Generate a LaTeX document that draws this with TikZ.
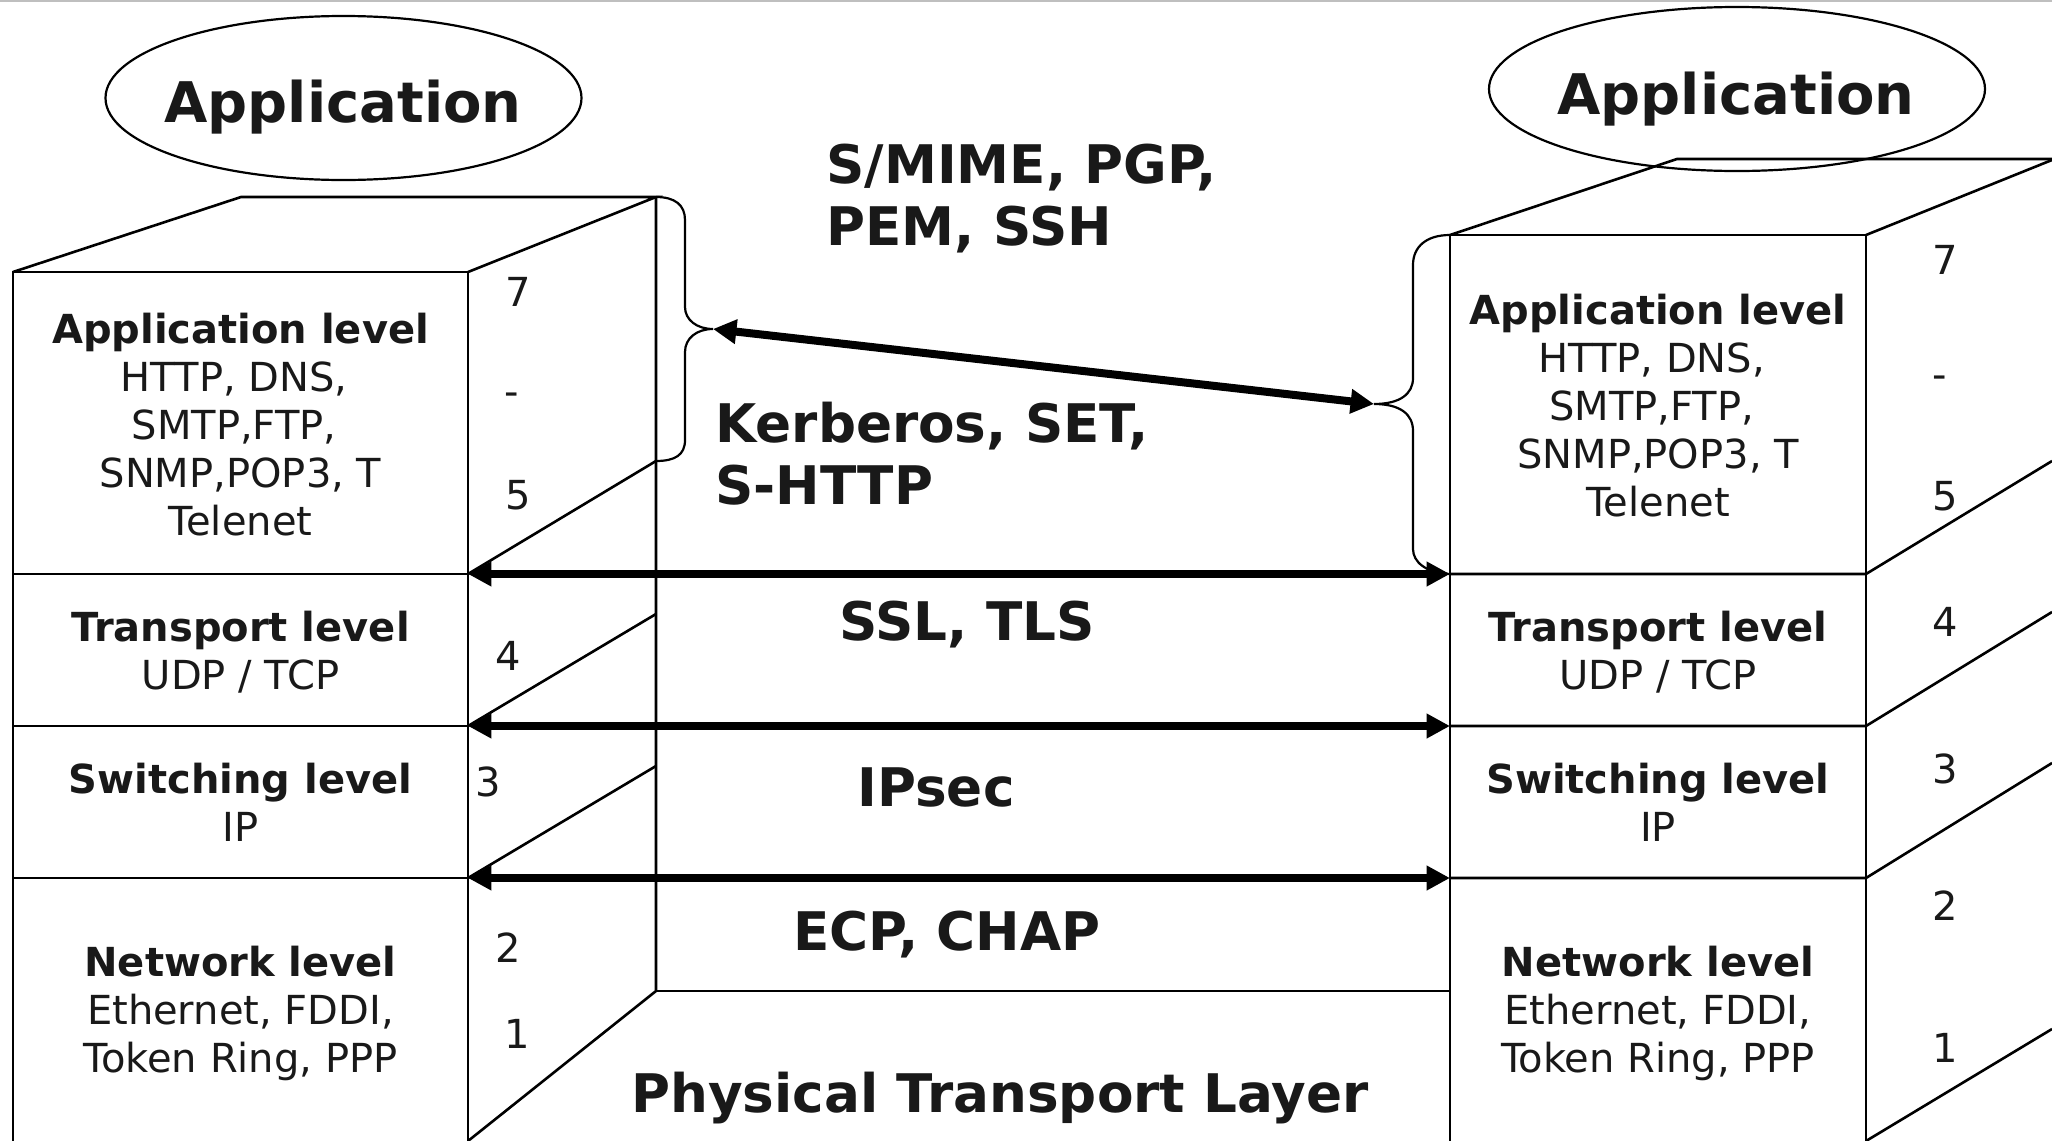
\documentclass[tikz,border=0pt]{standalone}
\usepackage{fontspec}
\setmainfont{DejaVu Sans}
\usetikzlibrary{arrows.meta,shapes.geometric}

% width of a trailing word space kept at the end of a centred line
\newcommand{\trailsp}{\kern0.32em}

\begin{document}
\begin{tikzpicture}[x=0.5pt,y=-0.5pt,
  edgeline/.style={line width=1.3pt, line join=miter},
  bracepath/.style={line width=1.1pt},
  protoarrow/.style={line width=4pt,
    {Triangle[length=11.7pt,width=11.7pt]}-{Triangle[length=11.7pt,width=11.7pt]}},
  layertext/.style={align=center, inner sep=0pt, text=black!90, font=\fontsize{20pt}{24pt}\selectfont},
  numtext/.style={anchor=base, inner sep=0pt, text=black!90, font=\fontsize{20pt}{24pt}\selectfont},
  biglabel/.style={inner sep=0pt, text=black!90, font=\bfseries\fontsize{26.6pt}{31pt}\selectfont},
  titletext/.style={anchor=base, inner sep=0pt, text=black!90, font=\bfseries\fontsize{28pt}{34pt}\selectfont},
  appellipse/.style={draw, ellipse, line width=1.1pt, inner sep=0pt}
]
\useasboundingbox (0,0) rectangle (2052,1141);
\fill[black!25] (0,0) rectangle (2052,2);

% ---------- application ovals ----------
\node[appellipse, minimum width=238pt, minimum height=82pt] (ovalL) at (343.5,98) {};
\node[appellipse, minimum width=248pt, minimum height=82pt] (ovalR) at (1737,89) {};
\node[titletext] (titleL) at (343,122) {Application};
\node[titletext] (titleR) at (1736,114) {Application};

% ---------- left protocol stack ----------
\coordinate (LfTL) at (13,272);   \coordinate (LfTR) at (468,272);
\coordinate (LfBL) at (13,1141);  \coordinate (LfBR) at (468,1141);
\coordinate (LbTL) at (241,197);  \coordinate (LbTR) at (656,197);
\coordinate (LbBR) at (656,991);
\coordinate (L5) at (468,574); \coordinate (L4) at (468,726); \coordinate (L3) at (468,878);
\coordinate (Lb5) at (656,461); \coordinate (Lb4) at (656,614); \coordinate (Lb3) at (656,766);

\draw[edgeline] (LfBL) -- (LfTL) -- (LfTR) -- (LfBR);
\draw[edgeline] (LfTL) -- (LbTL) -- (LbTR) -- (LfTR);
\draw[edgeline] (LbTR) -- (LbBR) -- (LfBR);
\draw[edgeline] (Lb5) -- (L5);
\draw[edgeline] (Lb4) -- (L4);
\draw[edgeline] (Lb3) -- (L3);
\draw[edgeline] (13,574) -- (L5);
\draw[edgeline] (13,726) -- (L4);
\draw[edgeline] (13,878) -- (L3);

% ---------- right protocol stack ----------
\coordinate (RfTL) at (1450,235); \coordinate (RfTR) at (1866,235);
\coordinate (RfBL) at (1450,1141); \coordinate (RfBR) at (1866,1141);
\coordinate (RbTL) at (1677,159); \coordinate (RbTR) at (2052,159);
\coordinate (R5) at (1450,574); \coordinate (R4) at (1450,726); \coordinate (R3) at (1450,878);

\draw[edgeline] (RfBL) -- (RfTL) -- (RfTR) -- (RfBR);
\draw[edgeline] (RfTL) -- (RbTL) -- (RbTR);
\draw[edgeline] (RfTR) -- (2052,160);
\draw[edgeline] (R5) -- (1866,574) -- (2052,461);
\draw[edgeline] (R4) -- (1866,726) -- (2052,612);
\draw[edgeline] (R3) -- (1866,878) -- (2052,763);
\draw[edgeline] (RfBR) -- (2052,1029);

% physical layer edge
\draw[edgeline] (LbBR) -- (RfBL |- LbBR);

% ---------- braces around the application levels ----------
\coordinate (tipL) at (713,329);
\coordinate (tipR) at (1374,404);
\draw[bracepath] (LbTR) .. controls (675,197) and (685,205) .. (685,220)
  -- (685,307) .. controls (685,320) and (697,329) .. (tipL)
  .. controls (697,329) and (685,338) .. (685,352)
  -- (685,440) .. controls (685,455) and (675,461) .. (Lb5);
\draw[bracepath] (RfTL) .. controls (1426,235) and (1413,247) .. (1413,265)
  -- (1413,378) .. controls (1413,394) and (1400,404) .. (tipR)
  .. controls (1400,404) and (1413,414) .. (1413,431)
  -- (1413,549) .. controls (1413,562) and (1426,573) .. (R5);

% ---------- protocol arrows ----------
\draw[protoarrow] (tipL) -- (tipR);
\draw[protoarrow] (L5) -- (R5);
\draw[protoarrow] (L4) -- (R4);
\draw[protoarrow] (L3) -- (R3);

% ---------- security protocol labels ----------
\node[biglabel, align=left, anchor=west] (mailsec) at (826,198.5) {S/MIME, PGP,\\PEM, SSH};
\node[biglabel, align=left, anchor=west] (appsec) at (715,453.6) {Kerberos, SET,\\S-HTTP};
\node[biglabel, anchor=base] (tlssec) at (967,640) {SSL, TLS};
\node[biglabel, anchor=base] (ipsec) at (936,806) {IPsec};
\node[biglabel, anchor=base] (pppsec) at (947,950) {ECP, CHAP};
\node[biglabel, anchor=base] (phys) at (1000,1112) {Physical Transport Layer};

% ---------- layer texts ----------
\node[layertext] (appL) at (240.5,424.5) {\textbf{Application level}\\HTTP, DNS,\trailsp\\SMTP,FTP,\trailsp\\SNMP,POP3, T\\Telenet};
\node[layertext] (trL) at (240.5,652) {\textbf{Transport level}\\UDP / TCP};
\node[layertext] (swL) at (240.5,802) {\textbf{Switching level}\\IP};
\node[layertext] (nwL) at (240.5,1013) {\textbf{Network level}\\Ethernet, FDDI,\\Token Ring, PPP};

\node[layertext] (appR) at (1658,405.5) {\textbf{Application level}\\HTTP, DNS,\trailsp\\SMTP,FTP,\trailsp\\SNMP,POP3, T\\Telenet};
\node[layertext] (trR) at (1658,652) {\textbf{Transport level}\\UDP / TCP};
\node[layertext] (swR) at (1658,802) {\textbf{Switching level}\\IP};
\node[layertext] (nwR) at (1658,1013) {\textbf{Network level}\\Ethernet, FDDI,\\Token Ring, PPP};

% ---------- layer numbers ----------
\node[numtext] (nL7) at (518,306) {7};
\node[numtext] (nLd) at (512,405) {-};
\node[numtext] (nL5) at (518,509) {5};
\node[numtext] (nL4) at (508,670) {4};
\node[numtext] (nL3) at (488,796) {3};
\node[numtext] (nL2) at (508,962) {2};
\node[numtext] (nL1) at (517,1048) {1};

\node[numtext] (nR7) at (1945,274) {7};
\node[numtext] (nRd) at (1940,388) {-};
\node[numtext] (nR5) at (1945,510) {5};
\node[numtext] (nR4) at (1945,636) {4};
\node[numtext] (nR3) at (1945,783) {3};
\node[numtext] (nR2) at (1945,920) {2};
\node[numtext] (nR1) at (1945,1062) {1};
\end{tikzpicture}
\end{document}
